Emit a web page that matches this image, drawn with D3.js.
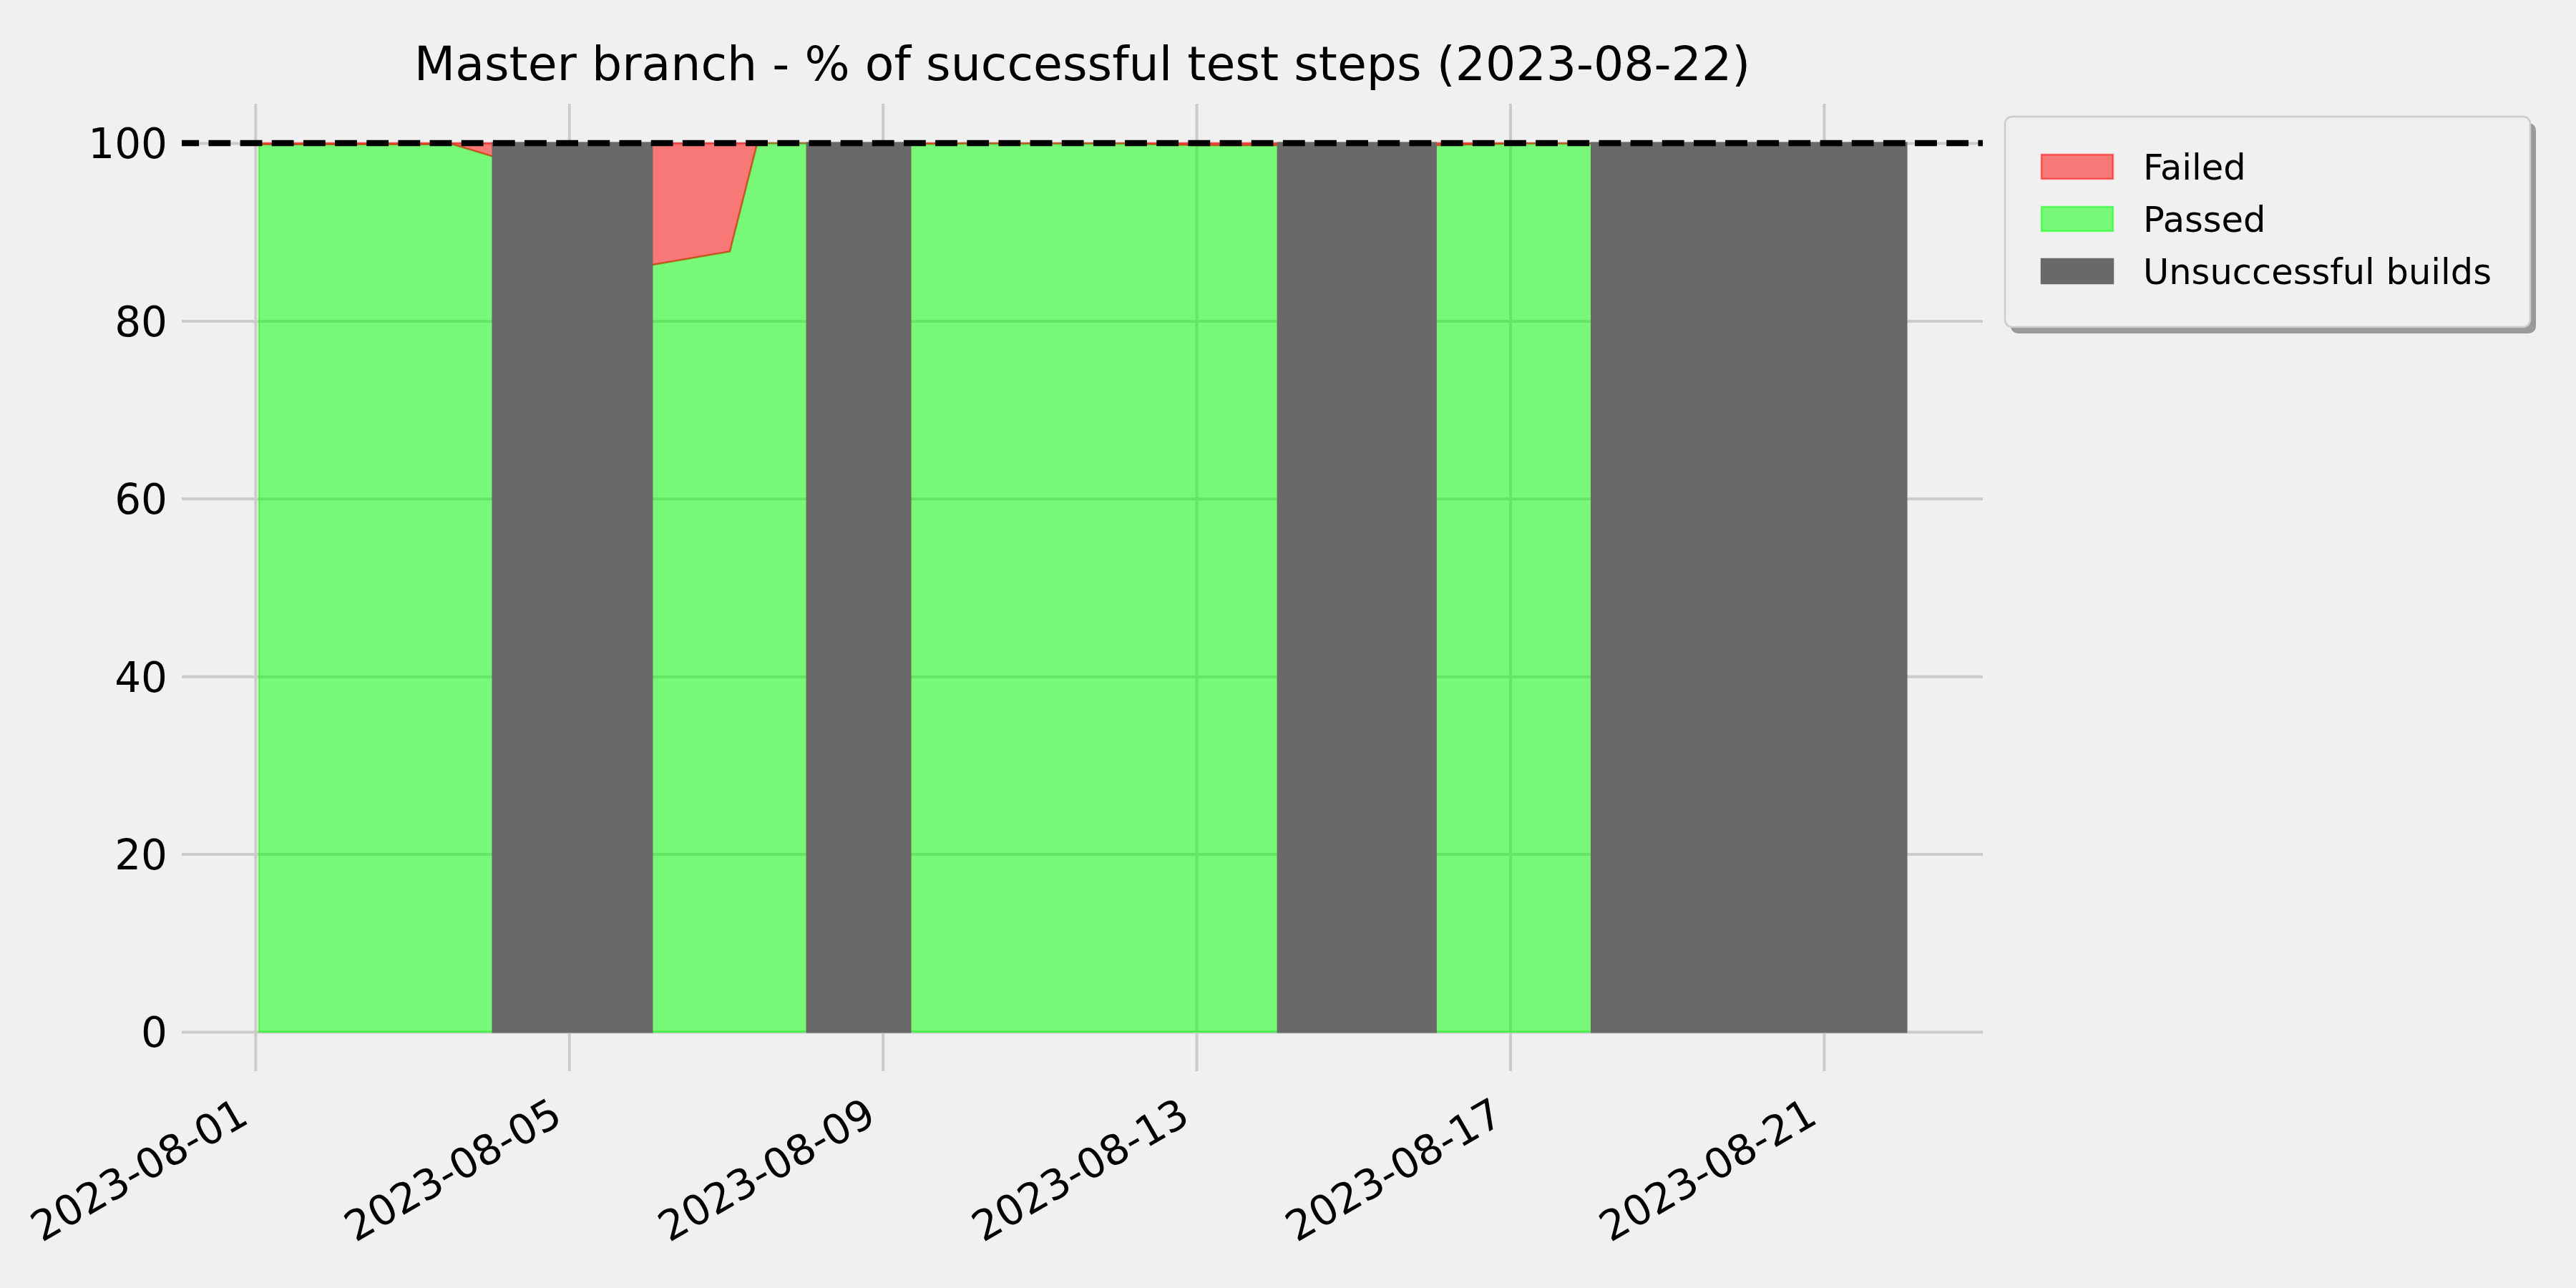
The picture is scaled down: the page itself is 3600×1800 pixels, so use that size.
<!DOCTYPE html>
<html>
<head>
<meta charset="utf-8">
<script src="https://cdn.jsdelivr.net/npm/d3@7"></script>
<style>
  html, body { margin: 0; padding: 0; background: #f0f0f0; }
  svg { display: block; }
  text { font-family: "DejaVu Sans", sans-serif; fill: #000; }
</style>
</head>
<body>
<svg id="chart" width="3600" height="1800"></svg>
<script>
// ---------------- data ----------------
const titleText = "Master branch - % of successful test steps (2023-08-22)";
const buildTimes = [
  "2023-08-01T01:08", "2023-08-02T01:00", "2023-08-03T12:30", "2023-08-04T00:43",
  "2023-08-06T01:20", "2023-08-07T01:12", "2023-08-07T09:36", "2023-08-08T00:52",
  "2023-08-09T08:24", "2023-08-10T01:00", "2023-08-11T01:00", "2023-08-12T01:00",
  "2023-08-13T01:00", "2023-08-14T00:58", "2023-08-16T01:12", "2023-08-17T01:00",
  "2023-08-18T00:58", "2023-08-22T01:12"
];
const passedPct = [99.85, 99.85, 99.85, 98.5, 86.3, 87.8, 100, 100, 99.9, 99.95, 99.95, 99.95, 99.75, 99.75, 99.75, 99.95, 99.95, 0];
const failedPct = [0.15, 0.15, 0.15, 1.5, 13.7, 12.2, 0, 0, 0.1, 0.05, 0.05, 0.05, 0.25, 0.25, 0.25, 0.05, 0.05, 100];
const unsuccessfulStart = ["2023-08-04T00:43", "2023-08-08T00:52", "2023-08-14T00:58", "2023-08-18T00:58"];
const unsuccessfulEnd   = ["2023-08-06T01:20", "2023-08-09T08:24", "2023-08-16T01:12", "2023-08-22T01:12"];
const xTickLabels = ["2023-08-01", "2023-08-05", "2023-08-09", "2023-08-13", "2023-08-17", "2023-08-21"];
const yTicks = [0, 20, 40, 60, 80, 100];
const targetLine = 100;
const legendLabels = ["Failed", "Passed", "Unsuccessful builds"];

// ---------------- layout ----------------
const axL = 254, axR = 2771, axT = 145, axB = 1497;
const parseT = d3.timeParse("%Y-%m-%dT%H:%M");
const parseD = d3.timeParse("%Y-%m-%d");
const times = buildTimes.map(parseT);

const x = d3.scaleTime().domain([times[0], times[times.length - 1]]).range([362, 2664]);
const y = d3.scaleLinear().domain([0, 100]).range([1442, 200]);

const svg = d3.select("#chart");
svg.append("rect").attr("width", 3600).attr("height", 1800).attr("fill", "#f0f0f0");

const grid = "#cbcbcb";
// y axis with gridlines
const yAxis = svg.append("g").attr("transform", `translate(${axL},0)`)
  .call(d3.axisLeft(y).tickValues(yTicks).tickSize(-(axR - axL)).tickPadding(20).tickFormat(d3.format("d")));
yAxis.select(".domain").remove();
yAxis.selectAll(".tick line").attr("stroke", grid).attr("stroke-width", 4);
yAxis.selectAll(".tick text").attr("font-size", 58).attr("dy", "0.36em")
  .attr("font-family", "DejaVu Sans").attr("fill", "#000");

// x axis with gridlines
const xTicks = xTickLabels.map(parseD);
const xAxis = svg.append("g").attr("transform", `translate(0,${axB})`)
  .call(d3.axisBottom(x).tickValues(xTicks).tickSize(-(axB - axT)).tickFormat(d3.timeFormat("%Y-%m-%d")));
xAxis.select(".domain").remove();
xAxis.selectAll(".tick line").attr("stroke", grid).attr("stroke-width", 4);
xAxis.selectAll(".tick text").attr("font-size", 58).attr("y", 0).attr("dy", 0)
  .attr("text-anchor", "end").attr("font-family", "DejaVu Sans").attr("fill", "#000")
  .attr("transform", "translate(-7,71) rotate(-30)");

// ---------------- stacked areas ----------------
const rows = times.map((t, i) => ({ date: t, passed: passedPct[i], failed: failedPct[i] }));
const stack = d3.stack().keys(["passed", "failed"]);
const layers = stack(rows);
const area = d3.area()
  .x(d => x(d.data.date))
  .y0(d => y(d[0]))
  .y1(d => y(d[1]));
const colors = { passed: "rgb(0,255,0)", failed: "rgb(255,0,0)" };
svg.append("g").selectAll("path").data(layers).join("path")
  .attr("d", area)
  .attr("fill", d => colors[d.key]).attr("fill-opacity", 0.5)
  .attr("stroke", d => colors[d.key]).attr("stroke-opacity", 0.5)
  .attr("stroke-width", 2.5).attr("stroke-linejoin", "miter");

// ---------------- unsuccessful builds ----------------
const spans = unsuccessfulStart.map((s, i) => ({ s: parseT(s), e: parseT(unsuccessfulEnd[i]) }));
svg.append("g").selectAll("rect").data(spans).join("rect")
  .attr("x", d => x(d.s)).attr("width", d => x(d.e) - x(d.s))
  .attr("y", y(100)).attr("height", y(0) - y(100))
  .attr("fill", "#696969").attr("stroke", "#696969").attr("stroke-width", 3);

// ---------------- 100% dashed line ----------------
svg.append("line")
  .attr("x1", axL).attr("x2", axR).attr("y1", y(targetLine)).attr("y2", y(targetLine))
  .attr("stroke", "#000").attr("stroke-width", 8.3)
  .attr("stroke-dasharray", "30.8,13.36").attr("stroke-dashoffset", 6.7);

// ---------------- title ----------------
svg.append("text").attr("x", (axL + axR) / 2).attr("y", 112)
  .attr("text-anchor", "middle").attr("font-size", 66.5).text(titleText);

// ---------------- legend ----------------
const lg = svg.append("g");
const lx = 2802, ly = 163, lw = 734, lh = 294;
lg.append("rect").attr("x", lx + 8).attr("y", ly + 9).attr("width", lw).attr("height", lh)
  .attr("rx", 10).attr("fill", "#999999");
lg.append("rect").attr("x", lx).attr("y", ly).attr("width", lw).attr("height", lh)
  .attr("rx", 10).attr("fill", "#f0f0f0").attr("stroke", "#cccccc").attr("stroke-width", 2.5);
const legendStyle = [
  { fill: "rgb(255,0,0)", op: 0.5, stroke: "rgb(255,0,0)", sop: 0.5 },
  { fill: "rgb(0,255,0)", op: 0.5, stroke: "rgb(0,255,0)", sop: 0.5 },
  { fill: "#696969", op: 1, stroke: "#696969", sop: 1 }
];
legendLabels.forEach((lab, i) => {
  const cy = 233 + i * 73;
  lg.append("rect").attr("x", 2853).attr("y", cy - 17).attr("width", 100).attr("height", 34)
    .attr("fill", legendStyle[i].fill).attr("fill-opacity", legendStyle[i].op)
    .attr("stroke", legendStyle[i].stroke).attr("stroke-opacity", legendStyle[i].sop).attr("stroke-width", 2.5);
  lg.append("text").attr("x", 2995).attr("y", cy + 18).attr("font-size", 49.5).text(lab);
});
</script>
</body>
</html>
